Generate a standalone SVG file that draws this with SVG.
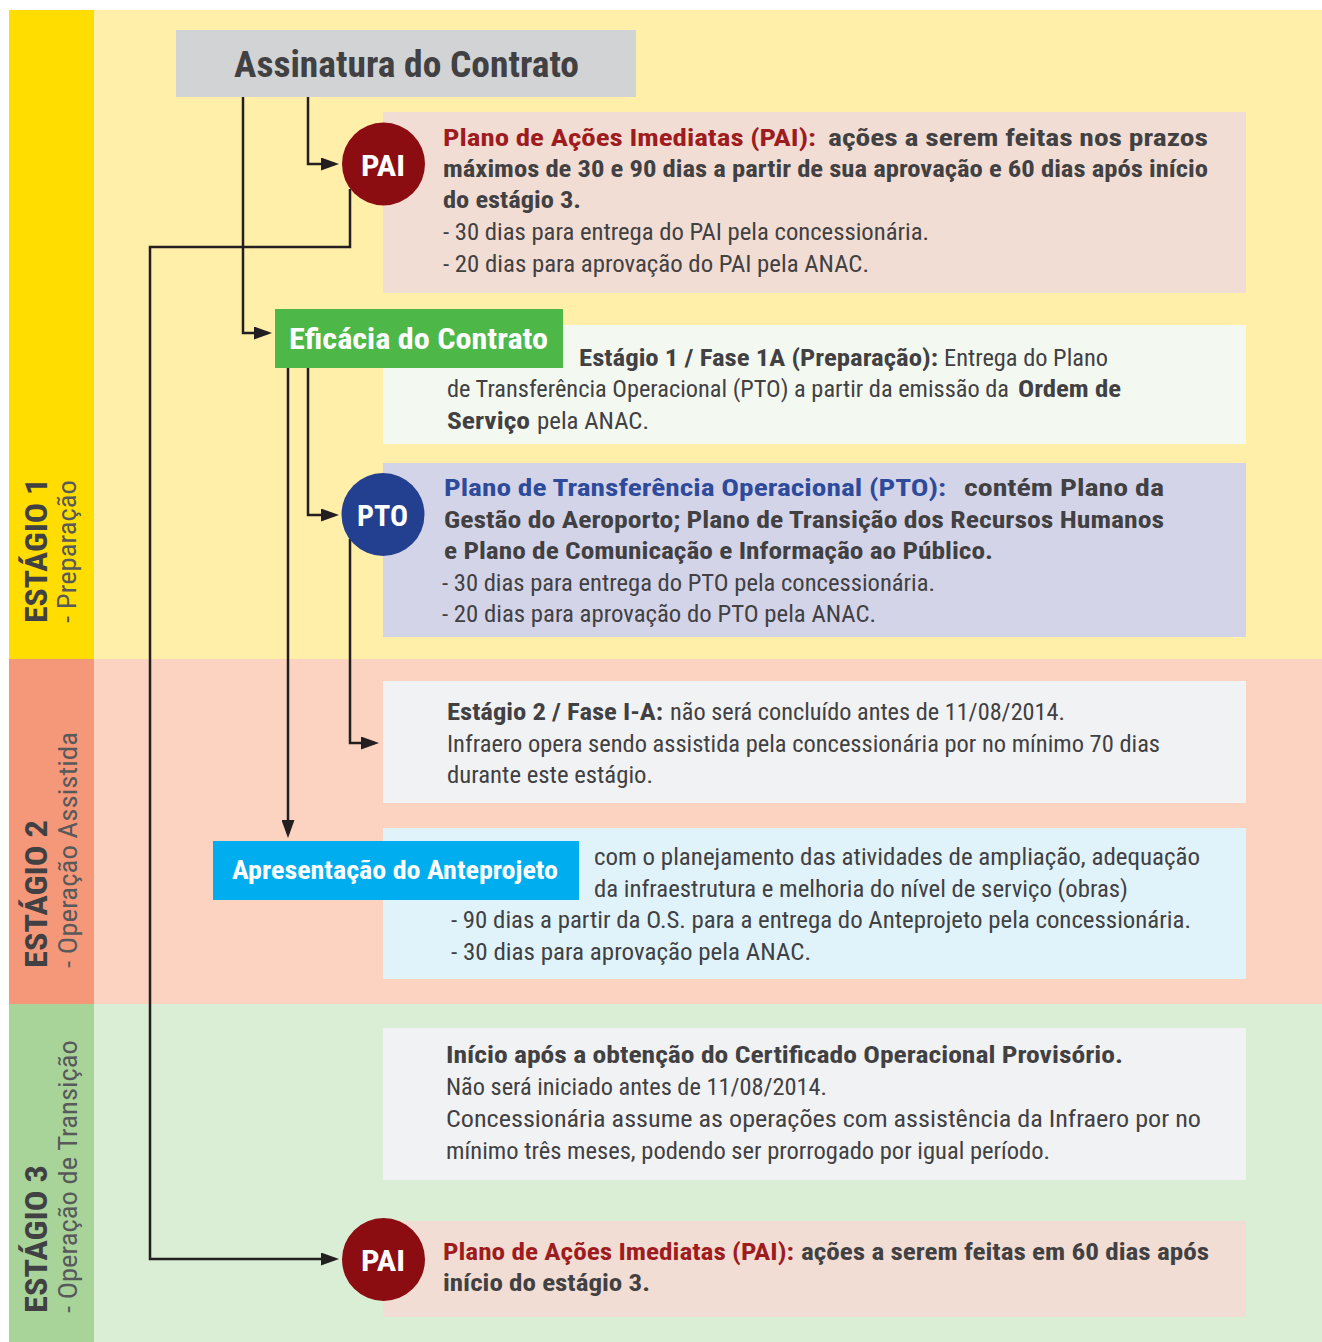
<svg xmlns="http://www.w3.org/2000/svg" width="1322" height="1342" viewBox="0 0 1322 1342">
<style>
text{font-family:"Liberation Sans Narrow","Roboto Condensed","DejaVu Sans Condensed","Liberation Sans",Arial,sans-serif;}
.t{font-size:24px;}
.b{font-weight:bold;fill:#414042;}
.r{font-weight:normal;fill:#414042;}
.red{font-weight:bold;fill:#9E1B20;}
.blue{font-weight:bold;fill:#2E4A9A;}
.w{font-weight:bold;fill:#FFFFFF;}
.stg{font-size:32px;font-weight:bold;fill:#414042;}
.sub{font-size:25px;font-weight:normal;fill:#58595B;}
.conn{fill:none;stroke:#231F20;stroke-width:2.5;}
</style>
<defs>
<marker id="arr" markerUnits="userSpaceOnUse" markerWidth="18" markerHeight="13" refX="14" refY="6.5" orient="auto">
<path d="M0,0 L18,6.5 L0,13 z" fill="#231F20"/>
</marker>
</defs>
<rect width="1322" height="1342" fill="#FFFFFF"/>
<g id="bands">
<rect x="9" y="10" width="85" height="649" fill="#FFDD00"/>
<rect x="94" y="10" width="1228" height="649" fill="#FFEFA8"/>
<rect x="9" y="659" width="85" height="345" fill="#F5987A"/>
<rect x="94" y="659" width="1228" height="345" fill="#FCD2C0"/>
<rect x="9" y="1004" width="85" height="338" fill="#A8D49A"/>
<rect x="94" y="1004" width="1228" height="338" fill="#DAEDD5"/>
</g>
<g id="stage-labels">
<text class="stg" transform="translate(46.5,623) rotate(-90)" textLength="145" lengthAdjust="spacingAndGlyphs">ESTÁGIO 1</text>
<text class="sub" transform="translate(76,623) rotate(-90)" textLength="143" lengthAdjust="spacingAndGlyphs">- Preparação</text>
<text class="stg" transform="translate(46.5,968) rotate(-90)" textLength="148" lengthAdjust="spacingAndGlyphs">ESTÁGIO 2</text>
<text class="sub" transform="translate(76.5,968) rotate(-90)" textLength="236" lengthAdjust="spacingAndGlyphs">- Operação Assistida</text>
<text class="stg" transform="translate(46.5,1313) rotate(-90)" textLength="148" lengthAdjust="spacingAndGlyphs">ESTÁGIO 3</text>
<text class="sub" transform="translate(76.5,1313) rotate(-90)" textLength="273" lengthAdjust="spacingAndGlyphs">- Operação de Transição</text>
</g>
<g id="assinatura">
<rect x="176" y="30" width="460" height="67" fill="#D1D3D4"/>
<text class="b" x="234" y="77" font-size="37" textLength="345" lengthAdjust="spacingAndGlyphs">Assinatura do Contrato</text>
</g>
<g id="pai-box">
<rect x="383" y="112" width="863" height="181" fill="#F1DDD3"/>
<text class="t red" x="443" y="145.5" textLength="373" lengthAdjust="spacingAndGlyphs">Plano de Ações Imediatas (PAI):</text>
<text class="t b" x="828" y="145.5" textLength="380" lengthAdjust="spacingAndGlyphs">ações a serem feitas nos prazos</text>
<text class="t b" x="443" y="177" textLength="765" lengthAdjust="spacingAndGlyphs">máximos de 30 e 90 dias a partir de sua aprovação e 60 dias após início</text>
<text class="t b" x="443" y="208" textLength="138" lengthAdjust="spacingAndGlyphs">do estágio 3.</text>
<text class="t r" x="443" y="240" textLength="486" lengthAdjust="spacingAndGlyphs">- 30 dias para entrega do PAI pela concessionária.</text>
<text class="t r" x="443" y="271.5" textLength="426" lengthAdjust="spacingAndGlyphs">- 20 dias para aprovação do PAI pela ANAC.</text>
</g>
<g id="fase1a-box">
<rect x="383" y="325" width="863" height="119" fill="#F3F8F1"/>
<text class="t b" x="579" y="365.5" textLength="359" lengthAdjust="spacingAndGlyphs">Estágio 1 / Fase 1A (Preparação):</text>
<text class="t r" x="944" y="365.5" textLength="164" lengthAdjust="spacingAndGlyphs">Entrega do Plano</text>
<text class="t r" x="447" y="397" textLength="562" lengthAdjust="spacingAndGlyphs">de Transferência Operacional (PTO) a partir da emissão da</text>
<text class="t b" x="1018" y="397" textLength="103" lengthAdjust="spacingAndGlyphs">Ordem de</text>
<text class="t b" x="447" y="428.5" textLength="83" lengthAdjust="spacingAndGlyphs">Serviço</text>
<text class="t r" x="537" y="428.5" textLength="112" lengthAdjust="spacingAndGlyphs">pela ANAC.</text>
</g>
<g id="eficacia">
<rect x="275" y="309" width="288" height="59" fill="#4DB848"/>
<text class="w" x="289" y="349" font-size="30" textLength="259" lengthAdjust="spacingAndGlyphs">Eficácia do Contrato</text>
</g>
<g id="pto-box">
<rect x="383" y="463" width="863" height="174" fill="#D4D4E8"/>
<text class="t blue" x="444" y="496" textLength="502" lengthAdjust="spacingAndGlyphs">Plano de Transferência Operacional (PTO):</text>
<text class="t b" x="964" y="496" textLength="200" lengthAdjust="spacingAndGlyphs">contém Plano da</text>
<text class="t b" x="444" y="527.5" textLength="720" lengthAdjust="spacingAndGlyphs">Gestão do Aeroporto; Plano de Transição dos Recursos Humanos</text>
<text class="t b" x="444" y="559" textLength="549" lengthAdjust="spacingAndGlyphs">e Plano de Comunicação e Informação ao Público.</text>
<text class="t r" x="442" y="590.5" textLength="493" lengthAdjust="spacingAndGlyphs">- 30 dias para entrega do PTO pela concessionária.</text>
<text class="t r" x="442" y="622" textLength="434" lengthAdjust="spacingAndGlyphs">- 20 dias para aprovação do PTO pela ANAC.</text>
</g>
<g id="fase-ia-box">
<rect x="383" y="681" width="863" height="122" fill="#F1F2F4"/>
<text class="t b" x="447" y="720" textLength="216" lengthAdjust="spacingAndGlyphs">Estágio 2 / Fase I-A:</text>
<text class="t r" x="670" y="720" textLength="395" lengthAdjust="spacingAndGlyphs">não será concluído antes de 11/08/2014.</text>
<text class="t r" x="447" y="751.5" textLength="713" lengthAdjust="spacingAndGlyphs">Infraero opera sendo assistida pela concessionária por no mínimo 70 dias</text>
<text class="t r" x="447" y="783" textLength="206" lengthAdjust="spacingAndGlyphs">durante este estágio.</text>
</g>
<g id="anteprojeto-box">
<rect x="383" y="828" width="863" height="151" fill="#E0F3FB"/>
<text class="t r" x="594" y="865" textLength="606" lengthAdjust="spacingAndGlyphs">com o planejamento das atividades de ampliação, adequação</text>
<text class="t r" x="594" y="896.5" textLength="534" lengthAdjust="spacingAndGlyphs">da infraestrutura e melhoria do nível de serviço (obras)</text>
<text class="t r" x="451" y="928" textLength="740" lengthAdjust="spacingAndGlyphs">- 90 dias a partir da O.S. para a entrega do Anteprojeto pela concessionária.</text>
<text class="t r" x="451" y="960" textLength="360" lengthAdjust="spacingAndGlyphs">- 30 dias para aprovação pela ANAC.</text>
</g>
<g id="apresentacao">
<rect x="213" y="841" width="366" height="59" fill="#00AEEF"/>
<text class="w" x="232" y="879" font-size="25" textLength="326" lengthAdjust="spacingAndGlyphs">Apresentação do Anteprojeto</text>
</g>
<g id="estagio3-box">
<rect x="383" y="1028" width="863" height="152" fill="#F1F2F4"/>
<text class="t b" x="446" y="1063" textLength="677" lengthAdjust="spacingAndGlyphs">Início após a obtenção do Certificado Operacional Provisório.</text>
<text class="t r" x="446" y="1095" textLength="381" lengthAdjust="spacingAndGlyphs">Não será iniciado antes de 11/08/2014.</text>
<text class="t r" x="446" y="1127" textLength="755" lengthAdjust="spacingAndGlyphs">Concessionária assume as operações com assistência da Infraero por no</text>
<text class="t r" x="446" y="1158.5" textLength="604" lengthAdjust="spacingAndGlyphs">mínimo três meses, podendo ser prorrogado por igual período.</text>
</g>
<g id="pai3-box">
<rect x="383" y="1221" width="863" height="96" fill="#F1DDD3"/>
<text class="t red" x="443" y="1260" textLength="351" lengthAdjust="spacingAndGlyphs">Plano de Ações Imediatas (PAI):</text>
<text class="t b" x="801" y="1260" textLength="408" lengthAdjust="spacingAndGlyphs">ações a serem feitas em 60 dias após</text>
<text class="t b" x="443" y="1291" textLength="207" lengthAdjust="spacingAndGlyphs">início do estágio 3.</text>
</g>
<g id="connectors">
<path class="conn" d="M308,97 V164 H335" marker-end="url(#arr)"/>
<path class="conn" d="M243,97 V333 H268" marker-end="url(#arr)"/>
<path class="conn" d="M350,189 V247 H150 V1259 H335" marker-end="url(#arr)"/>
<path class="conn" d="M288,368 V834" marker-end="url(#arr)"/>
<path class="conn" d="M308,368 V515 H335" marker-end="url(#arr)"/>
<path class="conn" d="M350,539 V743 H375" marker-end="url(#arr)"/>
</g>
<g id="pai-circle">
<circle cx="383.5" cy="164" r="41.5" fill="#8B0D12"/>
<text class="w" x="361" y="175.5" font-size="30" textLength="44" lengthAdjust="spacingAndGlyphs">PAI</text>
</g>
<g id="pto-circle">
<circle cx="383" cy="514.5" r="41.5" fill="#233F8F"/>
<text class="w" x="357" y="525.5" font-size="30" textLength="51" lengthAdjust="spacingAndGlyphs">PTO</text>
</g>
<g id="pai3-circle">
<circle cx="383.5" cy="1259.5" r="41.5" fill="#8B0D12"/>
<text class="w" x="361" y="1271" font-size="30" textLength="44" lengthAdjust="spacingAndGlyphs">PAI</text>
</g>
</svg>
